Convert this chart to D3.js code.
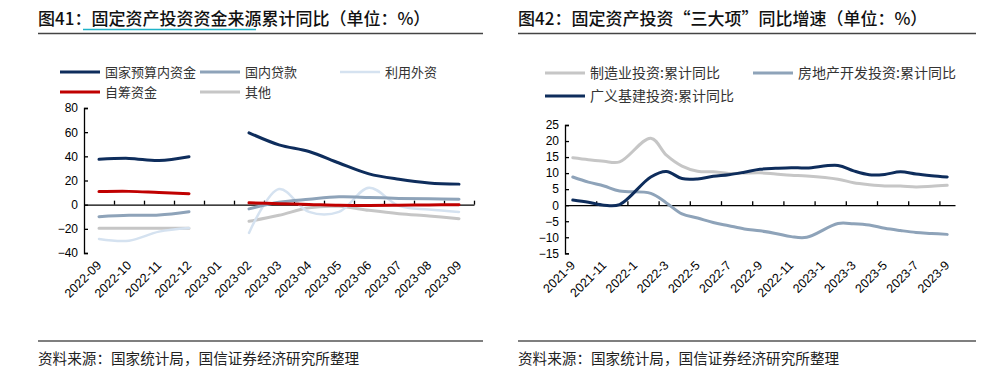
<!DOCTYPE html>
<html>
<head>
<meta charset="utf-8">
<script src="https://cdn.jsdelivr.net/npm/d3@7"></script>
<style>
  body { margin: 0; background: #fff; }
  text { font-family: "Noto Sans CJK SC", "Noto Sans", sans-serif; }
  .axis text { font-family: "Liberation Sans", Arial, sans-serif; font-size: 12px; fill: #000; }
  .xlab text { font-size: 12.5px; }
  .axis path, .axis line { stroke: #000; stroke-width: 1.3; }
</style>
</head>
<body>
<svg id="chart" width="1000" height="376"></svg>
<script>
// ---- left chart data: 固定资产投资资金来源累计同比 ----
let leftMonths = ['2022-09','2022-10','2022-11','2022-12','2023-01','2023-02','2023-03',
  '2023-04','2023-05','2023-06','2023-07','2023-08','2023-09']
let budgetFunds  = [37.5, 38.3, 36.5, 39.7, null, 59.5, 49.5, 44.0, 34.5, 25.5, 21.0, 18.0, 17.0]
let domesticLoan = [-9.9, -8.8, -8.5, -5.8, null, -3.5, 2.0, 4.5, 6.5, 6.0, 5.2, 4.8, 4.5]
let foreignFunds = [-28.4, -29.8, -22.3, -19.3, null, -23.4, 13.0, -6.0, -6.0, 14.0, -1.0, -4.0, -6.0]
let selfRaised   = [10.8, 11.0, 10.0, 9.1, null, 1.5, 0.8, 0.2, -0.5, -0.7, -0.5, -0.2, 0.0]
let otherFunds   = [-19.5, -19.5, -19.5, -19.5, null, -13.8, -8.8, -2.5, -1.4, -4.7, -7.5, -9.4, -11.6]
let leftTicks = [-40, -20, 0, 20, 40, 60, 80]

// ---- right chart data: 固定资产投资“三大项”同比增速 ----
let rightMonths = ['2021-9','2021-10','2021-11','2021-12','2022-1','2022-2','2022-3','2022-4',
  '2022-5','2022-6','2022-7','2022-8','2022-9','2022-10','2022-11','2022-12','2023-1','2023-2',
  '2023-3','2023-4','2023-5','2023-6','2023-7','2023-8','2023-9']
let manufacturing = [14.8, 14.2, 13.7, 13.5, null, 20.9, 15.6, 12.2, 10.6, 10.4, 9.9, 10.0, 10.1,
  9.7, 9.3, 9.1, null, 8.1, 7.0, 6.4, 6.0, 6.0, 5.7, 5.9, 6.2]
let realEstate = [8.8, 7.2, 6.0, 4.4, null, 3.7, 0.7, -2.7, -4.0, -5.4, -6.4, -7.4, -8.0,
  -8.8, -9.8, -10.0, null, -5.7, -5.8, -6.2, -7.2, -7.9, -8.5, -8.8, -9.1]
let infrastructure = [1.6, 0.9, 0.0, 0.2, null, 8.8, 10.5, 8.3, 8.2, 9.0, 9.5, 10.3, 11.2,
  11.5, 11.7, 11.6, null, 12.4, 10.7, 9.5, 9.6, 10.4, 9.7, 9.2, 8.8]
let rightTicks = [-15, -10, -5, 0, 5, 10, 15, 20, 25]

let navy = '#0e2d5c', red = '#c00000', greyBlue = '#8ea3b9', paleBlue = '#d5e2f0', grey = '#c6c6c6'

let svg = d3.select('#chart')

// titles + rules
function header(x0, x1, label) {
  svg.append('text').attr('x', x0).attr('y', 25).attr('font-size', 17)
    .attr('font-weight', 500).attr('fill', '#111').text(label)
  svg.append('line').attr('x1', x0).attr('x2', x1).attr('y1', 33.5).attr('y2', 33.5)
    .attr('stroke', '#444').attr('stroke-width', 1.5)
  svg.append('line').attr('x1', x0).attr('x2', x1).attr('y1', 341).attr('y2', 341)
    .attr('stroke', '#555').attr('stroke-width', 1.5)
  svg.append('text').attr('x', x0).attr('y', 364).attr('font-size', 14.6)
    .attr('fill', '#222').text('资料来源：国家统计局，国信证券经济研究所整理')
}
header(38, 483, '图41：固定资产投资资金来源累计同比（单位：%）')
header(518, 976, '图42：固定资产投资“三大项”同比增速（单位：%）')
// cyan underline under part of the left title
svg.append('line').attr('x1', 83).attr('x2', 256).attr('y1', 29.5).attr('y2', 29.5)
  .attr('stroke', '#1fb3c8').attr('stroke-width', 1.5)

function legendItem(x, y, color, label, w, fs) {
  svg.append('line').attr('x1', x).attr('x2', x + 40).attr('y1', y).attr('y2', y)
    .attr('stroke', color).attr('stroke-width', w)
  svg.append('text').attr('x', x + 45).attr('y', y + 4.5).attr('font-size', fs)
    .attr('fill', '#333').text(label)
}

// ---------------- left chart ----------------
let xL = d3.scaleBand().domain(leftMonths).range([84, 474])
let yL = d3.scaleLinear().domain([-40, 80]).range([253, 108])
let xLedge = d3.scaleLinear().domain([0, leftMonths.length]).range([84, 474])

svg.append('g').attr('class', 'axis').attr('transform', 'translate(84,0)')
  .call(d3.axisLeft(yL).tickValues(leftTicks).tickSizeInner(-4).tickSizeOuter(-4).tickPadding(6))

svg.append('g').attr('class', 'axis').attr('transform', 'translate(0,' + yL(0) + ')')
  .call(d3.axisBottom(xLedge).tickValues(d3.range(1, leftMonths.length + 1))
    .tickFormat('').tickSizeInner(-4).tickSizeOuter(0))

svg.append('g').attr('class', 'axis xlab').attr('transform', 'translate(0,255)')
  .call(d3.axisBottom(xL).tickSize(0).tickPadding(0))
  .call(g => g.select('.domain').remove())
  .selectAll('text')
  .attr('text-anchor', 'end')
  .attr('dy', '0.35em')
  .attr('transform', 'translate(0,8) rotate(-45)')

let leftSeries = [
  { name: '其他', values: otherFunds, color: grey, w: 3 },
  { name: '利用外资', values: foreignFunds, color: paleBlue, w: 2.5 },
  { name: '国内贷款', values: domesticLoan, color: greyBlue, w: 3 },
  { name: '自筹资金', values: selfRaised, color: red, w: 3 },
  { name: '国家预算内资金', values: budgetFunds, color: navy, w: 3 }
]

let lineL = d3.line()
  .defined(d => d.v !== null)
  .x(d => xL(d.m) + xL.bandwidth() / 2)
  .y(d => yL(d.v))
  .curve(d3.curveCatmullRom.alpha(0.5))

leftSeries.forEach(s => {
  svg.append('path')
    .datum(leftMonths.map((m, i) => ({ m: m, v: s.values[i] })))
    .attr('fill', 'none').attr('stroke', s.color).attr('stroke-width', s.w)
    .attr('stroke-linecap', 'round')
    .attr('d', lineL)
})

legendItem(60, 72, navy, '国家预算内资金', 3, 13)
legendItem(200, 72, greyBlue, '国内贷款', 3, 13)
legendItem(340, 72, paleBlue, '利用外资', 2.5, 13)
legendItem(60, 92, red, '自筹资金', 3, 13)
legendItem(200, 92, grey, '其他', 3, 13)

// ---------------- right chart ----------------
let xR = d3.scaleBand().domain(rightMonths).range([565, 955])
let yR = d3.scaleLinear().domain([-15, 25]).range([253.3, 125])
let xRedge = d3.scaleLinear().domain([0, rightMonths.length]).range([565, 955])

svg.append('g').attr('class', 'axis').attr('transform', 'translate(565,0)')
  .call(d3.axisLeft(yR).tickValues(rightTicks).tickSizeInner(-4).tickSizeOuter(-4).tickPadding(6))

svg.append('g').attr('class', 'axis').attr('transform', 'translate(0,' + yR(0) + ')')
  .call(d3.axisBottom(xRedge).tickValues(d3.range(2, rightMonths.length, 2))
    .tickFormat('').tickSizeInner(-4).tickSizeOuter(0))

svg.append('g').attr('class', 'axis xlab').attr('transform', 'translate(0,255)')
  .call(d3.axisBottom(xR).tickValues(rightMonths.filter((m, i) => i % 2 === 0))
    .tickSize(0).tickPadding(0))
  .call(g => g.select('.domain').remove())
  .selectAll('text')
  .attr('text-anchor', 'end')
  .attr('dy', '0.35em')
  .attr('transform', 'translate(0,8) rotate(-45)')

let rightSeries = [
  { name: '房地产开发投资:累计同比', values: realEstate, color: greyBlue },
  { name: '制造业投资:累计同比', values: manufacturing, color: grey },
  { name: '广义基建投资:累计同比', values: infrastructure, color: navy }
]

// months with no release (January) are skipped and the line joins across them
let lineR = d3.line()
  .x(d => xR(d.m) + xR.bandwidth() / 2)
  .y(d => yR(d.v))
  .curve(d3.curveCatmullRom.alpha(0.5))

rightSeries.forEach(s => {
  let pts = rightMonths.map((m, i) => ({ m: m, v: s.values[i] })).filter(d => d.v !== null)
  svg.append('path').datum(pts)
    .attr('fill', 'none').attr('stroke', s.color).attr('stroke-width', 3)
    .attr('stroke-linecap', 'round')
    .attr('d', lineR)
})

legendItem(545, 73, grey, '制造业投资:累计同比', 3, 14)
legendItem(753, 73, greyBlue, '房地产开发投资:累计同比', 3, 14)
legendItem(545, 96, navy, '广义基建投资:累计同比', 3, 14)
</script>
</body>
</html>
